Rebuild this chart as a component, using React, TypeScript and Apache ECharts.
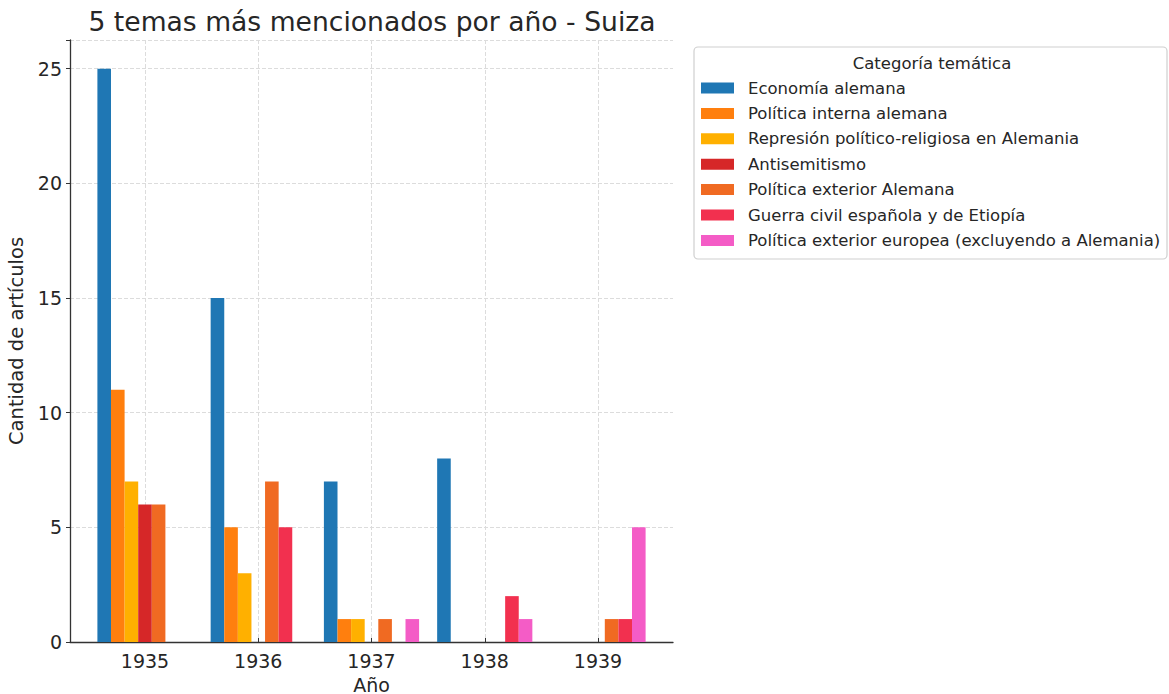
import React, { useEffect, useRef } from "react";
import * as echarts from "echarts";

const years = ["1935", "1936", "1937", "1938", "1939"];
const seriesNames = [
  "Economía alemana",
  "Política interna alemana",
  "Represión político-religiosa en Alemania",
  "Antisemitismo",
  "Política exterior Alemana",
  "Guerra civil española y de Etiopía",
  "Política exterior europea (excluyendo a Alemania)",
];
const economia = [25, 15, 7, 8, 0];
const politicaInterna = [11, 5, 1, 0, 0];
const represion = [7, 3, 1, 0, 0];
const antisemitismo = [6, 0, 0, 0, 0];
const exteriorAlemana = [6, 7, 1, 0, 1];
const guerraCivil = [0, 5, 0, 2, 1];
const exteriorEuropea = [0, 0, 1, 1, 5];
const seriesValues = [economia, politicaInterna, represion, antisemitismo, exteriorAlemana, guerraCivil, exteriorEuropea];
const colors = ["#1f77b4", "#ff7f0e", "#ffb000", "#d62728", "#f06a22", "#f2304f", "#f45cc6"];
const yTicks = [0, 5, 10, 15, 20, 25];

const FONT = "'DejaVu Sans', sans-serif";
const TXT = "#262626";

export default function App() {
  const ref = useRef<HTMLDivElement>(null);
  useEffect(() => {
    if (!ref.current) return;
    const chart = echarts.init(ref.current, null, { renderer: "svg" });
    const yMax = 26.25;
    chart.setOption({
      animation: false,
      textStyle: { fontFamily: FONT },
      grid: [
        { left: 70, top: 40, width: 603, height: 602, outerBoundsMode: "none", containLabel: false },
        { left: 145, top: 40, width: 453, height: 602, outerBoundsMode: "none", containLabel: false },
      ],
      xAxis: [
        {
          gridIndex: 0,
          type: "value",
          min: 0,
          max: 1,
          axisLine: { show: true, lineStyle: { color: "#333", width: 1.3 } },
          axisTick: { show: false },
          axisLabel: { show: false },
          splitLine: { show: false },
        },
        {
          gridIndex: 1,
          type: "category",
          boundaryGap: false,
          data: years,
          axisLine: { show: false },
          axisTick: { show: true, inside: true, length: 4, lineStyle: { color: "#333" } },
          axisLabel: { fontSize: 19, color: TXT, margin: 9, fontFamily: FONT },
          splitLine: { show: true, lineStyle: { color: "#dcdcdc", type: "dashed", width: 1 } },
          name: "Año",
          nameLocation: "middle",
          nameGap: 33,
          nameTextStyle: { fontSize: 19, color: TXT, fontFamily: FONT },
        },
      ],
      yAxis: [
        {
          gridIndex: 0,
          type: "value",
          min: 0,
          max: yMax,
          interval: 5,
          axisLine: { show: true, lineStyle: { color: "#333", width: 1.3 } },
          axisTick: { show: true, length: 4, lineStyle: { color: "#333" } },
          axisLabel: {
            fontSize: 19,
            color: TXT,
            margin: 8,
            fontFamily: FONT,
            formatter: (v: number) => (yTicks.includes(v) ? String(v) : ""),
          },
          splitLine: { show: true, lineStyle: { color: "#dcdcdc", type: "dashed", width: 1 } },
          name: "Cantidad de artículos",
          nameLocation: "middle",
          nameRotate: 90,
          nameGap: 37,
          nameTextStyle: { fontSize: 19.5, color: TXT, fontFamily: FONT },
        },
        {
          gridIndex: 1,
          type: "value",
          min: 0,
          max: yMax,
          show: false,
        },
      ],
      legend: {
        orient: "vertical",
        left: 701,
        top: 79,
        padding: 0,
        itemWidth: 33,
        itemHeight: 11,
        itemGap: 7.4,
        icon: "rect",
        selectedMode: false,
        data: seriesNames,
        textStyle: { fontSize: 16.5, lineHeight: 18, color: TXT, fontFamily: FONT, padding: [0, 0, 0, 9] },
      },
      graphic: [
        {
          type: "text",
          x: 372,
          y: 21,
          style: {
            text: "5 temas más mencionados por año - Suiza",
            fontSize: 26.6,
            fontFamily: FONT,
            fill: TXT,
            align: "center",
            verticalAlign: "middle",
          },
        },
        {
          type: "rect",
          shape: { x: 694, y: 47, width: 473, height: 212, r: 4 },
          style: { fill: "none", stroke: "#cfcfcf", lineWidth: 1.2 },
        },
        {
          type: "text",
          x: 932,
          y: 63,
          style: {
            text: "Categoría temática",
            fontSize: 16.5,
            fontFamily: FONT,
            fill: TXT,
            align: "center",
            verticalAlign: "middle",
          },
        },
      ],
      series: seriesNames.map((name, i) => ({
        name,
        type: "bar",
        xAxisIndex: 1,
        yAxisIndex: 1,
        data: seriesValues[i],
        barWidth: 13.6,
        barGap: "0%",
        clip: false,
        itemStyle: { color: colors[i] },
      })),
    });
    return () => chart.dispose();
  }, []);
  return (
    <div
      ref={ref}
      style={{ position: "absolute", left: 0, top: 0, width: 1169, height: 694, background: "#fff" }}
    />
  );
}
